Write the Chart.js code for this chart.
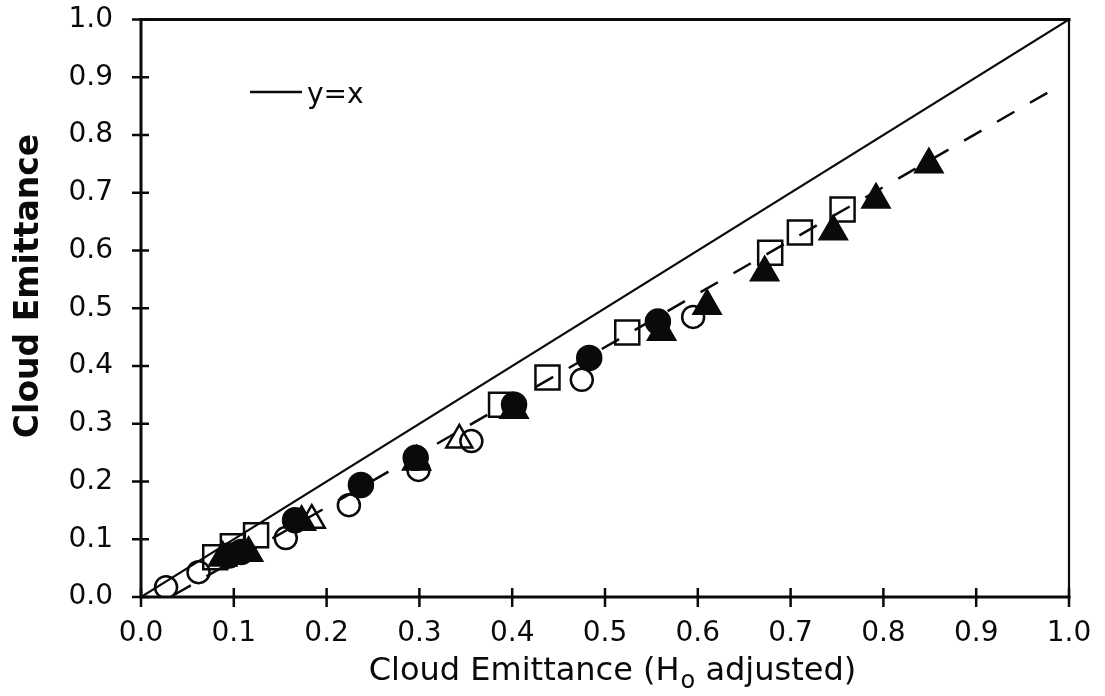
<!DOCTYPE html>
<html><head><meta charset="utf-8">
<script src="https://cdn.jsdelivr.net/npm/chart.js@4.4.0/dist/chart.umd.min.js"></script>
<style>html,body{margin:0;padding:0;background:#fff}#wrap{width:1105px;height:696px}</style>
</head><body><div id="wrap"><canvas id="c" width="1105" height="696"></canvas></div>
<script>
// ---- data ----
const tickLabels = ['0.0','0.1','0.2','0.3','0.4','0.5','0.6','0.7','0.8','0.9','1.0'];
const xTitle = ['Cloud Emittance (H', 'o', ' adjusted)'];
const yTitle = 'Cloud Emittance';
const legendLabel = 'y=x';

const identityLine = [{x:0,y:0},{x:1,y:1}];
const fitLine = [{x:0.035,y:0.003},{x:0.982,y:0.878}];

const openCircles = [
  {x:0.027,y:0.017},{x:0.062,y:0.043},{x:0.156,y:0.102},{x:0.224,y:0.159},
  {x:0.299,y:0.220},{x:0.356,y:0.270},{x:0.475,y:0.376},{x:0.595,y:0.485}
];
const filledCircles = [
  {x:0.095,y:0.072},{x:0.108,y:0.078},{x:0.166,y:0.133},{x:0.237,y:0.194},
  {x:0.296,y:0.241},{x:0.402,y:0.333},{x:0.483,y:0.414},{x:0.557,y:0.477}
];
const openSquares = [
  {x:0.080,y:0.069},{x:0.099,y:0.088},{x:0.124,y:0.107},{x:0.388,y:0.333},
  {x:0.438,y:0.380},{x:0.524,y:0.458},{x:0.678,y:0.596},{x:0.710,y:0.631},
  {x:0.756,y:0.671}
];
const filledTriangles = [
  {x:0.088,y:0.068},{x:0.116,y:0.076},{x:0.173,y:0.130},{x:0.297,y:0.234},
  {x:0.402,y:0.324},{x:0.561,y:0.459},{x:0.610,y:0.504},{x:0.672,y:0.562},
  {x:0.746,y:0.633},{x:0.792,y:0.688},{x:0.849,y:0.749}
];
const openTriangles = [
  {x:0.184,y:0.133},{x:0.343,y:0.272}
];

const FONT = '"DejaVu Sans", sans-serif';
const INK = '#0a0a0a';

function markerSet(label, data, style, radius, filled){
  return {
    label, data, showLine:false,
    pointStyle: style, pointRadius: radius,
    pointBackgroundColor: filled ? INK : 'rgba(0,0,0,0)',
    pointBorderColor: INK, pointBorderWidth: 2.5
  };
}

const decorPlugin = {
  id: 'decor',
  afterDraw(chart){
    const ctx = chart.ctx;
    const a = chart.chartArea;
    const xs = chart.scales.x, ys = chart.scales.y;
    ctx.save();
    ctx.strokeStyle = INK;
    ctx.lineCap = 'square';
    // frame
    ctx.lineWidth = 3;
    ctx.beginPath();
    ctx.moveTo(a.left, a.top); ctx.lineTo(a.left, a.bottom); ctx.lineTo(a.right, a.bottom);
    ctx.moveTo(a.left, a.top); ctx.lineTo(a.right, a.top);
    ctx.stroke();
    ctx.lineWidth = 2.2;
    ctx.beginPath(); ctx.moveTo(a.right, a.top); ctx.lineTo(a.right, a.bottom); ctx.stroke();
    // crossing ticks
    ctx.lineWidth = 2.5;
    ctx.lineCap = 'butt';
    ctx.beginPath();
    xs.ticks.forEach(t => {
      const px = xs.getPixelForValue(t.value);
      ctx.moveTo(px, a.bottom - 9); ctx.lineTo(px, a.bottom + 10);
    });
    ys.ticks.forEach(t => {
      const py = ys.getPixelForValue(t.value);
      ctx.moveTo(a.left - 9, py); ctx.lineTo(a.left + 8, py);
    });
    ctx.stroke();
    // legend
    ctx.lineWidth = 2.5;
    ctx.beginPath(); ctx.moveTo(250, 92); ctx.lineTo(302, 92); ctx.stroke();
    ctx.fillStyle = INK;
    ctx.font = '28px ' + FONT;
    ctx.textAlign = 'left'; ctx.textBaseline = 'alphabetic';
    ctx.fillText(legendLabel, 307, 103);
    // x title with subscript
    const big = '32px ' + FONT, small = '24px ' + FONT;
    ctx.font = big; const w1 = ctx.measureText(xTitle[0]).width, w3 = ctx.measureText(xTitle[2]).width;
    ctx.font = small; const w2 = ctx.measureText(xTitle[1]).width;
    let x0 = 612 - (w1 + w2 + w3) / 2;
    const base = 680;
    ctx.font = big; ctx.fillText(xTitle[0], x0, base);
    ctx.font = small; ctx.fillText(xTitle[1], x0 + w1 + 1, base + 8);
    ctx.font = big; ctx.fillText(xTitle[2], x0 + w1 + w2 + 1, base);
    // y title
    ctx.translate(38, 286);
    ctx.rotate(-Math.PI / 2);
    ctx.font = 'bold 33px ' + FONT;
    ctx.textAlign = 'center';
    ctx.fillText(yTitle, 0, 0);
    ctx.restore();
  }
};

const axisCommon = {
  type: 'linear', min: 0, max: 1,
  grid: { display: false },
  border: { display: false },
  ticks: {
    stepSize: 0.1, color: INK,
    font: { family: FONT, size: 28 },
    callback: (v, i) => tickLabels[i]
  },
  title: { display: false }
};

new Chart(document.getElementById('c'), {
  type: 'scatter',
  data: {
    datasets: [
      markerSet('open circles', openCircles, 'circle', 11, false),
      markerSet('filled circles', filledCircles, 'circle', 12, true),
      markerSet('open squares', openSquares, 'rect', 17, false),
      markerSet('filled triangles', filledTriangles, 'triangle', 15.5, true),
      markerSet('open triangles', openTriangles, 'triangle', 15, false),
      { label: 'fit', data: fitLine, showLine: true, borderColor: INK, borderWidth: 2.5,
        borderDash: [20, 18], pointRadius: 0, fill: false },
      { label: legendLabel, data: identityLine, showLine: true, borderColor: INK, borderWidth: 2.2,
        pointRadius: 0, fill: false }
    ]
  },
  options: {
    responsive: false, animation: false, events: [],
    layout: { padding: { top: 18, right: 36, bottom: 0, left: 0 } },
    plugins: { legend: { display: false }, tooltip: { enabled: false } },
    scales: {
      x: Object.assign({}, axisCommon, {
        ticks: Object.assign({}, axisCommon.ticks, { padding: 12, maxRotation: 0, autoSkip: false }),
        afterFit: s => { s.height = 99; s.paddingLeft = 0; s.paddingRight = 0; }
      }),
      y: Object.assign({}, axisCommon, {
        ticks: Object.assign({}, axisCommon.ticks, { padding: 20, autoSkip: false }),
        afterFit: s => { s.width = 141; s.paddingTop = 0; s.paddingBottom = 0; }
      })
    }
  },
  plugins: [decorPlugin]
});
</script>
</body></html>
